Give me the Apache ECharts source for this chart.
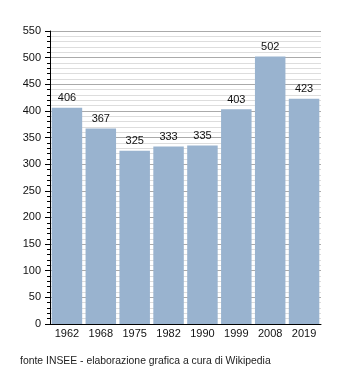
<!DOCTYPE html>
<html><head><meta charset="utf-8">
<script src="https://cdn.jsdelivr.net/npm/echarts@6/dist/echarts.min.js"></script>
<style>html,body{margin:0;padding:0;background:#fff}#c{width:350px;height:373px}</style>
</head><body><div id="c"></div>
<script>
const years = ['1962','1968','1975','1982','1990','1999','2008','2019'];
const population = [406, 367, 325, 333, 335, 403, 502, 423];
const footer = 'fonte INSEE - elaborazione grafica a cura di Wikipedia';

const chart = echarts.init(document.getElementById('c'), null, {renderer:'canvas'});
chart.setOption({
  animation:false,
  textStyle:{fontFamily:'Liberation Sans, Arial, sans-serif'},
  grid:{left:50,right:29,top:31,bottom:49},
  graphic:[{type:'text',left:20,top:356,style:{text:footer,fontSize:10.4,fill:'#222',fontFamily:'Liberation Sans, Arial, sans-serif'}}],
  xAxis:{type:'category',data:years,
    axisLine:{lineStyle:{color:'#000',width:1}},
    axisTick:{show:false},
    axisLabel:{color:'#111',fontSize:11,margin:4}},
  yAxis:{type:'value',min:0,max:550,interval:50,
    axisLine:{show:true,lineStyle:{color:'#000',width:1}},
    axisTick:{show:true,inside:false,length:5,lineStyle:{color:'#000'}},
    minorTick:{show:true,splitNumber:5,length:3,lineStyle:{color:'#000'}},
    splitLine:{show:true,lineStyle:{color:'#aaa',width:1}},
    minorSplitLine:{show:true,lineStyle:{color:'#ddd',width:1}},
    axisLabel:{color:'#111',fontSize:11,margin:9}},
  series:[{type:'bar',data:population,barCategoryGap:'10%',
    itemStyle:{color:'#99b3cf'},
    label:{show:true,position:'top',distance:4,color:'#111',fontSize:11}}]
});
</script></body></html>
